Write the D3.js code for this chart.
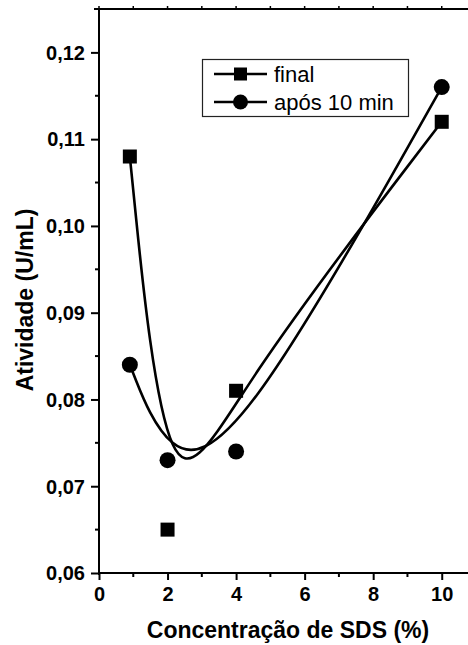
<!DOCTYPE html>
<html>
<head>
<meta charset="utf-8">
<script src="https://cdn.jsdelivr.net/npm/d3@7"></script>
<style>
  html, body { margin: 0; padding: 0; background: #fff; }
  svg { display: block; }
  text { font-family: "Liberation Sans", Arial, sans-serif; fill: #000; }
</style>
</head>
<body>
<svg id="chart" width="468" height="645"></svg>
<script>
// ---- data ----
const seriesNames = ["final", "após 10 min"];
const concentrations = [0.9, 2, 4, 10];
const finalValues = [0.108, 0.065, 0.081, 0.112];
const after10Values = [0.084, 0.073, 0.074, 0.116];
const xTickValues = [0, 2, 4, 6, 8, 10];
const xMinorTicks = [1, 3, 5, 7, 9, 11];
const yTickValues = [0.06, 0.07, 0.08, 0.09, 0.10, 0.11, 0.12];
const yMinorTicks = [0.065, 0.075, 0.085, 0.095, 0.105, 0.115, 0.125];
const xTitle = "Concentração de SDS (%)";
const yTitle = "Atividade (U/mL)";

(function () {
// ---- layout ----
const svg = d3.select("#chart");
const pL = 99, pR = 476, pT = 9, pB = 573;
const x = d3.scaleLinear().domain([0, 11]).range([pL, pR]);
const y = d3.scaleLinear().domain([0.06, 0.125]).range([pB, pT]);

const fmt = d => d3.format(".2f")(d).replace(".", ",");

// top frame line with small ticks
svg.append("line").attr("x1", pL - 5).attr("x2", 468).attr("y1", pT).attr("y2", pT)
  .attr("stroke", "#000").attr("stroke-width", 2);
svg.append("g").selectAll("line").data(xTickValues.concat(xMinorTicks)).join("line")
  .attr("x1", d => x(d)).attr("x2", d => x(d)).attr("y1", pT).attr("y2", pT - 3)
  .attr("stroke", "#000").attr("stroke-width", 1.5);

// left axis
const yAxis = d3.axisLeft(y).tickValues(yTickValues).tickFormat(fmt).tickSize(8).tickPadding(6);
const gy = svg.append("g").attr("transform", `translate(${pL},0)`).call(yAxis);
gy.select(".domain").attr("stroke-width", 2).attr("d", `M0,${pT}V${pB + 2}`);
gy.selectAll(".tick line").attr("stroke-width", 2);
gy.selectAll(".tick text").attr("font-size", 20).attr("font-weight", "bold")
  .attr("dy", "0.34em");
gy.append("g").selectAll("line").data(yMinorTicks).join("line")
  .attr("x1", -4).attr("x2", 0).attr("y1", d => y(d)).attr("y2", d => y(d))
  .attr("stroke", "#000").attr("stroke-width", 2);

// bottom axis
const xAxis = d3.axisBottom(x).tickValues(xTickValues).tickFormat(d3.format("d")).tickSize(7).tickPadding(7);
const gx = svg.append("g").attr("transform", `translate(0,${pB})`).call(xAxis);
gx.select(".domain").attr("stroke-width", 2).attr("d", `M${pL - 1},0H${pR}`);
gx.selectAll(".tick line").attr("stroke-width", 2);
gx.selectAll(".tick text").attr("font-size", 20).attr("font-weight", "bold");
gx.append("g").selectAll("line").data(xMinorTicks).join("line")
  .attr("x1", d => x(d)).attr("x2", d => x(d)).attr("y1", 0).attr("y2", 4)
  .attr("stroke", "#000").attr("stroke-width", 2);

// axis titles
svg.append("text").attr("x", 288).attr("y", 638)
  .attr("text-anchor", "middle").attr("font-size", 23).attr("font-weight", "bold")
  .text(xTitle);
svg.append("text").attr("transform", "translate(33,300) rotate(-90)")
  .attr("text-anchor", "middle").attr("font-size", 23).attr("font-weight", "bold")
  .text(yTitle);

// curves (B-spline through data as control points)
const line = d3.line().x((d, i) => x(concentrations[i])).y(d => y(d)).curve(d3.curveBasis);
[finalValues, after10Values].forEach(vals => {
  svg.append("path").attr("d", line(vals)).attr("fill", "none")
    .attr("stroke", "#000").attr("stroke-width", 2.6);
});

// markers
const sq = 14;
svg.append("g").selectAll("rect").data(finalValues).join("rect")
  .attr("x", (d, i) => x(concentrations[i]) - sq / 2).attr("y", d => y(d) - sq / 2)
  .attr("width", sq).attr("height", sq).attr("fill", "#000");
svg.append("g").selectAll("circle").data(after10Values).join("circle")
  .attr("cx", (d, i) => x(concentrations[i])).attr("cy", d => y(d)).attr("r", 8)
  .attr("fill", "#000");

// legend
const lg = svg.append("g");
lg.append("rect").attr("x", 202.5).attr("y", 59.5).attr("width", 206).attr("height", 57)
  .attr("fill", "#fff").attr("stroke", "#222").attr("stroke-width", 1.2);
const rows = [74, 102];
seriesNames.forEach((name, i) => {
  const ry = rows[i];
  lg.append("line").attr("x1", 214).attr("x2", 267).attr("y1", ry).attr("y2", ry)
    .attr("stroke", "#000").attr("stroke-width", 2.6);
  if (i === 0) {
    lg.append("rect").attr("x", 240.5 - 6.5).attr("y", ry - 6.5).attr("width", 13).attr("height", 13).attr("fill", "#000");
  } else {
    lg.append("circle").attr("cx", 240.5).attr("cy", ry).attr("r", 7.5).attr("fill", "#000");
  }
  lg.append("text").attr("x", 274).attr("y", ry + 8).attr("font-size", 22).text(name);
});
})();
</script>
</body>
</html>
